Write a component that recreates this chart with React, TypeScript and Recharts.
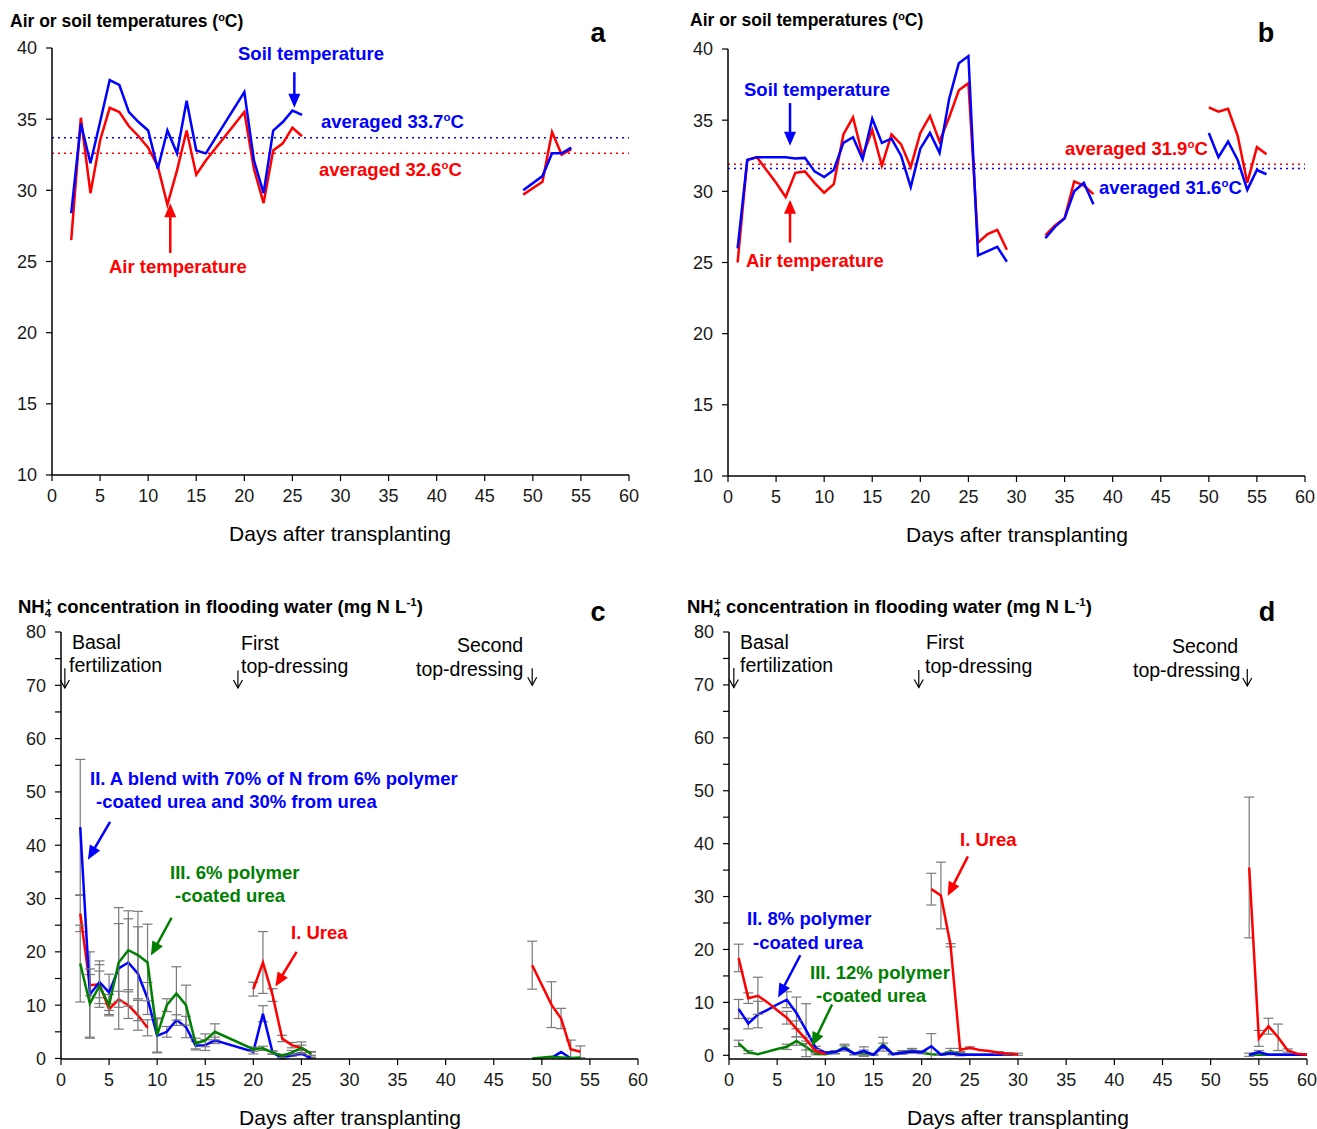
import React from 'react';
import { LineChart, Line, XAxis, YAxis, ReferenceLine, ErrorBar } from 'recharts';

const FONT = 'Arial, "Liberation Sans", Helvetica, sans-serif';
const RED = '#ff0000';
const BLUE = '#0000ff';
const GREEN = '#008000';
const ERR = '#7a7a7a';

// ---- panel a: temperatures, site 1 ----
const daysA = [2, 3, 4, 5, 6, 7, 8, 9, 10, 11, 12, 13, 14, 15, 16, 20, 21, 22, 23, 24, 25, 26, 30, 49, 51, 52, 53, 54];
const soilA = [28.4, 34.7, 31.9, 34.8, 37.75, 37.4, 35.5, 34.8, 34.2, 31.5, 34.2, 32.6, 36.3, 32.8, 32.6, 36.9, 32.1, 29.8, 34.2, 34.8, 35.6, 35.3, null, 30.0, 31.0, 32.6, 32.6, 33.0];
const airA = [26.5, 35.1, 29.8, 33.5, 35.8, 35.5, 34.5, 33.8, 33.0, 31.7, 29.0, 31.4, 34.2, 31.1, 32.1, 35.5, 31.5, 29.1, 32.8, 33.3, 34.4, 33.8, null, 29.7, 30.6, 34.1, 32.5, 32.9];
const avgSoilA = 33.7;
const avgAirA = 32.6;

// ---- panel b: temperatures, site 2 ----
const daysB = [1, 2, 3, 4, 5, 6, 7, 8, 9, 10, 11, 12, 13, 14, 15, 16, 17, 18, 19, 20, 21, 22, 23, 24, 25, 26, 27, 28, 29, 31, 33, 34, 35, 36, 37, 38, 45, 50, 51, 52, 53, 54, 55, 56];
const soilB = [26.0, 32.2, 32.4, 32.4, 32.4, 32.4, 32.3, 32.35, 31.4, 31.0, 31.5, 33.4, 33.8, 32.25, 35.1, 33.4, 33.7, 32.5, 30.3, 33.0, 34.1, 32.7, 36.5, 39.0, 39.5, 25.5, 25.8, 26.1, 25.05, null, 26.7, 27.5, 28.1, 30.0, 30.6, 29.1, null, 34.1, 32.4, 33.5, 32.2, 30.1, 31.5, 31.2];
const airB = [25.0, 32.2, 32.4, 31.5, 30.6, 29.6, 31.3, 31.4, 30.6, 29.9, 30.5, 34.0, 35.2, 32.5, 34.3, 31.8, 34.0, 33.3, 31.7, 34.1, 35.3, 33.5, 35.2, 37.1, 37.6, 26.4, 27.0, 27.3, 25.9, null, 26.9, 27.6, 28.1, 30.7, 30.4, 29.8, null, 35.9, 35.6, 35.8, 33.9, 30.6, 33.1, 32.6];
const avgSoilB = 31.6;
const avgAirB = 31.9;

// ---- panel c: NH4+ in flooding water, site 1 ----
const daysC = [2, 3, 4, 5, 6, 7, 8, 9, 10, 11, 12, 13, 14, 15, 16, 20, 21, 22, 23, 24, 25, 26, 30, 49, 51, 52, 53, 54];
const ureaC = [27.2, 13.75, 13.9, 9.25, 11.1, 10.0, 8.1, 5.75, null, null, null, null, null, null, null, 13.0, 18.0, 11.9, 3.75, 2.5, 2.0, 0.9, null, 17.5, 10.1, 7.5, 1.75, 1.25];
const ureaErrC = [3.4, 2, 2.5, 1, 1.5, 2.5, 2.8, 1.5, null, null, null, null, null, null, null, 1.3, 5.8, 1.2, 0.6, 0.5, 0.5, 0.4, null, 4.5, 4.3, 1.9, 1.7, 1.1];
const blendC = [43.4, 12.0, 14.3, 12.4, 16.9, 18.0, 15.9, 11.25, 4.25, 5.0, 7.2, 5.9, 2.4, 2.5, 3.4, 1.25, 8.4, 1.1, 0.1, 0.6, 0.9, 0.1, null, null, 0.1, 1.2, 0.05, null];
const blendErrC = [12.7, 8, 4, 3.4, 11.4, 8.2, 8.8, 3, 3.2, 1, 1, 2, 0.8, 1, 0.6, 0.4, 1.5, 0.3, 0.2, 0.2, 0.2, 0.1, null, null, null, null, null, null];
const pcuC = [17.8, 10.3, 13.6, 10.0, 18.0, 20.3, 19.4, 18.0, 4.4, 10.0, 12.2, 10.0, 2.8, 3.4, 5.0, 1.75, 1.9, 1.1, 0.5, 1.1, 2.0, 0.9, null, 0.0, 0.3, 0.2, 0.1, 0.2];
const pcuErrC = [7.2, 6.5, 4, 2, 7.3, 7.4, 8.2, 7.2, 3.2, 1.2, 5, 3.75, 1, 1.2, 1.5, 0.4, 0.4, 0.3, 0.3, 0.4, 1.1, 0.3, null, null, null, null, null, null];

// ---- panel d: NH4+ in flooding water, site 2 ----
const daysD = [1, 2, 3, 4, 5, 6, 7, 8, 9, 10, 11, 12, 13, 14, 15, 16, 17, 18, 19, 20, 21, 22, 23, 24, 25, 26, 27, 28, 29, 30, 40, 54, 55, 56, 57, 58, 59, 60];
const ureaD = [18.4, 10.8, 11.25, 10.0, 8.5, 7.1, 5.0, 3.0, 0.8, 0.3, null, null, null, null, null, null, null, null, null, null, 31.4, 30.2, 20.8, 1.0, 1.4, 1.0, 0.8, 0.5, 0.3, 0.2, null, 35.5, 3.2, 5.5, 3.4, 0.9, 0.3, 0.1];
const ureaErrD = [2.6, 1.0, 3.5, null, null, 1.2, 1.5, 0.3, 0.3, null, null, null, null, null, null, null, null, null, null, null, 3.0, 6.3, 0.3, 0.3, 0.2, null, null, 0.2, 0.2, 0.2, null, 13.3, 1.5, 1.5, 2.5, 0.3, null, null];
const blendD = [8.75, 6.0, 7.7, 8.6, 9.6, 10.5, 8.0, 4.75, 1.4, 0.5, 0.6, 1.3, 0.3, 0.8, 0.1, 1.8, 0.2, 0.5, 0.7, 0.6, 1.7, 0.1, 0.4, 0.1, 0.1, 0.1, 0.1, 0.1, 0.2, 0.1, null, 0.1, 0.6, 0.1, 0.1, 0.1, 0.1, 0.1];
const blendErrD = [1.8, 1.0, 2.5, null, null, 1.5, 3.0, 5.0, 0.3, 0.2, 0.3, 0.5, 0.2, 0.8, 0.1, 0.5, 0.1, 0.3, 0.3, 0.2, 2.4, 0.1, 0.3, 0.1, null, null, null, null, null, null, null, 0.3, 0.3, null, null, null, null, null];
const pcuD = [2.25, 0.6, 0.2, 0.7, 1.2, 1.6, 2.7, 1.6, 0.3, 0.2, 0.5, 1.6, 0.3, 0.4, 0.1, 2.1, 0.2, 0.6, 0.9, 0.5, 0.2, 0.1, 0.8, 0.2, 0.1, 0.1, 0.1, 0.1, 0.1, 0.1, null, 0.1, 0.1, 0.1, 0.1, 0.1, 0.1, 0.1];
const pcuErrD = [0.6, 0.3, null, null, null, 0.5, 0.8, 0.6, 0.2, null, 0.2, 0.5, 0.2, 0.6, null, 1.3, null, 0.3, 0.4, 0.2, null, null, 0.5, 0.3, null, null, null, null, null, null, null, null, null, null, null, null, null, null];

const dayTicks = [0, 5, 10, 15, 20, 25, 30, 35, 40, 45, 50, 55, 60];
const tempTicks = [10, 15, 20, 25, 30, 35, 40];
const nh4Ticks = [0, 5, 10, 15, 20, 25, 30, 35, 40, 45, 50, 55, 60, 65, 70, 75, 80];

// one row per day; missing values stay null so the lines break there
const buildRows = (days: number[], cols: Record<string, (number | null)[]>) =>
  days.map((d, i) => {
    const row: any = { day: d };
    Object.keys(cols).forEach((k) => {
      const v = cols[k][i];
      row[k] = v === undefined ? null : v;
    });
    return row;
  });

const rowsA = buildRows(daysA, { soil: soilA, air: airA });
const rowsB = buildRows(daysB, { soil: soilB, air: airB });
const rowsC = buildRows(daysC, { urea: ureaC, ureaErr: ureaErrC, blend: blendC, blendErr: blendErrC, pcu: pcuC, pcuErr: pcuErrC });
const rowsD = buildRows(daysD, { urea: ureaD, ureaErr: ureaErrD, blend: blendD, blendErr: blendErrD, pcu: pcuD, pcuErr: pcuErrD });

// arrow drawn along a ReferenceLine segment, head at the second point
const arrowShape = (color: string, opts: { len?: number; half?: number; w?: number; open?: boolean } = {}) => (p: any) => {
  const { x1, y1, x2, y2 } = p;
  if ([x1, y1, x2, y2].some((v) => v == null || isNaN(v))) return <g />;
  const len = opts.len ?? 14;
  const half = opts.half ?? 6;
  const w = opts.w ?? 2.5;
  const dx = x2 - x1;
  const dy = y2 - y1;
  const d = Math.sqrt(dx * dx + dy * dy) || 1;
  const ux = dx / d;
  const uy = dy / d;
  const bx = x2 - ux * len;
  const by = y2 - uy * len;
  const lx = bx - uy * half;
  const ly = by + ux * half;
  const rx = bx + uy * half;
  const ry = by - ux * half;
  if (opts.open) {
    return (
      <g>
        <line x1={x1} y1={y1} x2={x2} y2={y2} stroke={color} strokeWidth={w} />
        <polyline points={`${lx},${ly} ${x2},${y2} ${rx},${ry}`} fill="none" stroke={color} strokeWidth={w} />
      </g>
    );
  }
  return (
    <g>
      <line x1={x1} y1={y1} x2={bx + ux * 2} y2={by + uy * 2} stroke={color} strokeWidth={w} />
      <polygon points={`${lx},${ly} ${x2},${y2} ${rx},${ry}`} fill={color} />
    </g>
  );
};

const tickStyle = { fontSize: 18, fill: '#1a1a1a', fontFamily: FONT };
const axisLine = { stroke: '#000', strokeWidth: 1.5 };
const tickLine = { stroke: '#000', strokeWidth: 1.2 };

const Sup = ({ children, shift = 0 }: any) => (
  <span style={{ fontSize: '0.62em', position: 'relative', top: '-0.6em', marginLeft: shift }}>{children}</span>
);
const Sub = ({ children }: any) => (
  <span style={{ fontSize: '0.62em', position: 'relative', top: '0.35em' }}>{children}</span>
);

const Txt = ({ x, y, s = 18.5, b = true, c = '#000', center = false, children }: any) => (
  <div
    style={{
      position: 'absolute',
      left: x,
      top: y - s / 2,
      fontSize: s,
      lineHeight: `${s}px`,
      fontWeight: b ? 700 : 400,
      color: c,
      fontFamily: FONT,
      whiteSpace: 'nowrap',
      transform: center ? 'translateX(-50%)' : undefined,
    }}
  >
    {children}
  </div>
);

const seg = (x1: number, y1: number, x2: number, y2: number) => [{ x: x1, y: y1 }, { x: x2, y: y2 }] as any;

const dayAxis = () => (
  <XAxis key="x" dataKey="day" type="number" domain={[0, 60]} ticks={dayTicks} height={30} tickSize={6} tickMargin={8} tick={tickStyle} axisLine={axisLine} tickLine={tickLine} interval={0} />
);

const tempAxes = () => [
  dayAxis(),
  <YAxis key="y" type="number" domain={[10, 40]} ticks={tempTicks} width={52} tickSize={6} tickMargin={9} tick={tickStyle} axisLine={axisLine} tickLine={tickLine} interval={0} />,
];

const nh4Axes = (yw: number) => [
  dayAxis(),
  <YAxis key="y" type="number" domain={[0, 80]} ticks={nh4Ticks} width={yw} tickSize={6} tickMargin={9} tick={tickStyle} axisLine={axisLine} tickLine={tickLine} interval={0} tickFormatter={(v: number) => (v % 10 === 0 ? String(v) : '')} />,
];

const errBar = (key: string) => <ErrorBar dataKey={key} direction="y" width={5} stroke={ERR} strokeWidth={1.2} />;

function PanelA() {
  return (
    <LineChart width={658} height={580} data={rowsA} margin={{ top: 48, right: 29, bottom: 75, left: 0 }}>
      {tempAxes()}
      <ReferenceLine y={avgSoilA} stroke={BLUE} strokeDasharray="2 4" strokeWidth={1.5} />
      <ReferenceLine y={avgAirA} stroke={RED} strokeDasharray="2 4" strokeWidth={1.5} />
      <Line dataKey="air" stroke={RED} strokeWidth={2.5} dot={false} activeDot={false} isAnimationActive={false} type="linear" />
      <Line dataKey="soil" stroke={BLUE} strokeWidth={2.5} dot={false} activeDot={false} isAnimationActive={false} type="linear" />
      <ReferenceLine segment={seg(25.2, 38.3, 25.2, 35.8)} shape={arrowShape(BLUE)} />
      <ReferenceLine segment={seg(12.3, 25.6, 12.3, 29.1)} shape={arrowShape(RED)} />
    </LineChart>
  );
}

function PanelB() {
  return (
    <LineChart width={641} height={580} data={rowsB} margin={{ top: 49, right: 12, bottom: 74, left: 0 }}>
      {tempAxes()}
      <ReferenceLine y={avgAirB} stroke={RED} strokeDasharray="2 4" strokeWidth={1.5} />
      <ReferenceLine y={avgSoilB} stroke={BLUE} strokeDasharray="2 4" strokeWidth={1.5} />
      <Line dataKey="air" stroke={RED} strokeWidth={2.5} dot={false} activeDot={false} isAnimationActive={false} type="linear" />
      <Line dataKey="soil" stroke={BLUE} strokeWidth={2.5} dot={false} activeDot={false} isAnimationActive={false} type="linear" />
      <ReferenceLine segment={seg(6.45, 36.2, 6.45, 33.2)} shape={arrowShape(BLUE)} />
      <ReferenceLine segment={seg(6.45, 26.4, 6.45, 29.4)} shape={arrowShape(RED)} />
    </LineChart>
  );
}

const blackArrow = arrowShape('#000', { len: 8, half: 4.5, w: 1.2, open: true });

function PanelC() {
  return (
    <LineChart width={658} height={549} data={rowsC} margin={{ top: 52, right: 20, bottom: 40, left: 0 }}>
      {nh4Axes(61)}
      <Line dataKey="urea" stroke={RED} strokeWidth={2.5} dot={false} activeDot={false} isAnimationActive={false} type="linear">
        {errBar('ureaErr')}
      </Line>
      <Line dataKey="blend" stroke={BLUE} strokeWidth={2.5} dot={false} activeDot={false} isAnimationActive={false} type="linear">
        {errBar('blendErr')}
      </Line>
      <Line dataKey="pcu" stroke={GREEN} strokeWidth={2.5} dot={false} activeDot={false} isAnimationActive={false} type="linear">
        {errBar('pcuErr')}
      </Line>
      <ReferenceLine segment={seg(0.4, 73.2, 0.4, 69.5)} shape={blackArrow} />
      <ReferenceLine segment={seg(18.4, 72.8, 18.4, 69.5)} shape={blackArrow} />
      <ReferenceLine segment={seg(49, 73.2, 49, 70.0)} shape={blackArrow} />
      <ReferenceLine segment={seg(5.1, 44.4, 2.8, 37.3)} shape={arrowShape(BLUE)} />
      <ReferenceLine segment={seg(11.5, 26.4, 9.35, 19.3)} shape={arrowShape(GREEN)} />
      <ReferenceLine segment={seg(24.5, 20.0, 22.3, 13.5)} shape={arrowShape(RED)} />
    </LineChart>
  );
}

function PanelD() {
  return (
    <LineChart width={641} height={549} data={rowsD} margin={{ top: 52, right: 10, bottom: 40, left: 0 }}>
      {nh4Axes(53)}
      <Line dataKey="pcu" stroke={GREEN} strokeWidth={2.5} dot={false} activeDot={false} isAnimationActive={false} type="linear">
        {errBar('pcuErr')}
      </Line>
      <Line dataKey="blend" stroke={BLUE} strokeWidth={2.5} dot={false} activeDot={false} isAnimationActive={false} type="linear">
        {errBar('blendErr')}
      </Line>
      <Line dataKey="urea" stroke={RED} strokeWidth={2.5} dot={false} activeDot={false} isAnimationActive={false} type="linear">
        {errBar('ureaErr')}
      </Line>
      <ReferenceLine segment={seg(0.5, 73.2, 0.5, 69.5)} shape={blackArrow} />
      <ReferenceLine segment={seg(19.7, 72.8, 19.7, 69.5)} shape={blackArrow} />
      <ReferenceLine segment={seg(53.8, 73.0, 53.8, 69.8)} shape={blackArrow} />
      <ReferenceLine segment={seg(24.8, 37.6, 22.7, 30.1)} shape={arrowShape(RED)} />
      <ReferenceLine segment={seg(7.4, 18.9, 5.1, 10.9)} shape={arrowShape(BLUE)} />
      <ReferenceLine segment={seg(10.7, 9.6, 8.6, 1.7)} shape={arrowShape(GREEN)} />
    </LineChart>
  );
}

export default function App() {
  const box = (left: number, top: number) => ({ position: 'absolute' as const, left, top });
  return (
    <div style={{ position: 'absolute', left: 0, top: 0, width: 1317, height: 1129, background: '#fff', overflow: 'hidden', fontFamily: FONT }}>
      <div style={box(0, 0)}><PanelA /></div>
      <div style={box(676, 0)}><PanelB /></div>
      <div style={box(0, 580)}><PanelC /></div>
      <div style={box(676, 580)}><PanelD /></div>

      {/* panel a texts */}
      <Txt x={10} y={22} s={17.5}>Air or soil temperatures (<Sup>o</Sup>C)</Txt>
      <Txt x={598} y={33} s={27} center>a</Txt>
      <Txt x={238} y={54} c={BLUE}>Soil temperature</Txt>
      <Txt x={321} y={122} c={BLUE}>averaged 33.7<Sup>o</Sup>C</Txt>
      <Txt x={319} y={170} c={RED}>averaged 32.6<Sup>o</Sup>C</Txt>
      <Txt x={109} y={267} c={RED}>Air temperature</Txt>
      <Txt x={340} y={533} s={21} b={false} center>Days after transplanting</Txt>

      {/* panel b texts */}
      <Txt x={690} y={21} s={17.5}>Air or soil temperatures (<Sup>o</Sup>C)</Txt>
      <Txt x={1266} y={33} s={27} center>b</Txt>
      <Txt x={744} y={90} c={BLUE}>Soil temperature</Txt>
      <Txt x={746} y={261} c={RED}>Air temperature</Txt>
      <Txt x={1065} y={149} c={RED}>averaged 31.9<Sup>o</Sup>C</Txt>
      <Txt x={1099} y={188} c={BLUE}>averaged 31.6<Sup>o</Sup>C</Txt>
      <Txt x={1017} y={534} s={21} b={false} center>Days after transplanting</Txt>

      {/* panel c texts */}
      <Txt x={18} y={607} s={18.5}>NH<Sub>4</Sub><Sup shift={-6}>+</Sup> concentration in flooding water (mg N L<Sup>-1</Sup>)</Txt>
      <Txt x={598} y={612} s={27} center>c</Txt>
      <Txt x={72} y={643} s={19.5} b={false}>Basal</Txt>
      <Txt x={69} y={666} s={19.5} b={false}>fertilization</Txt>
      <Txt x={241} y={644} s={19.5} b={false}>First</Txt>
      <Txt x={241} y={667} s={19.5} b={false}>top-dressing</Txt>
      <Txt x={490} y={646} s={19.5} b={false} center>Second</Txt>
      <Txt x={416} y={670} s={19.5} b={false}>top-dressing</Txt>
      <Txt x={90} y={779} c={BLUE}>II. A blend with 70% of N from 6% polymer</Txt>
      <Txt x={96} y={802} c={BLUE}>-coated urea and 30% from urea</Txt>
      <Txt x={170} y={873} c={GREEN}>III. 6% polymer</Txt>
      <Txt x={175} y={896} c={GREEN}>-coated urea</Txt>
      <Txt x={291} y={933} c={RED}>I. Urea</Txt>
      <Txt x={350} y={1117} s={21} b={false} center>Days after transplanting</Txt>

      {/* panel d texts */}
      <Txt x={687} y={607} s={18.5}>NH<Sub>4</Sub><Sup shift={-6}>+</Sup> concentration in flooding water (mg N L<Sup>-1</Sup>)</Txt>
      <Txt x={1267} y={612} s={27} center>d</Txt>
      <Txt x={740} y={643} s={19.5} b={false}>Basal</Txt>
      <Txt x={740} y={666} s={19.5} b={false}>fertilization</Txt>
      <Txt x={926} y={643} s={19.5} b={false}>First</Txt>
      <Txt x={925} y={667} s={19.5} b={false}>top-dressing</Txt>
      <Txt x={1205} y={647} s={19.5} b={false} center>Second</Txt>
      <Txt x={1133} y={671} s={19.5} b={false}>top-dressing</Txt>
      <Txt x={960} y={840} c={RED}>I. Urea</Txt>
      <Txt x={747} y={919} c={BLUE}>II. 8% polymer</Txt>
      <Txt x={753} y={943} c={BLUE}>-coated urea</Txt>
      <Txt x={810} y={973} c={GREEN}>III. 12% polymer</Txt>
      <Txt x={816} y={996} c={GREEN}>-coated urea</Txt>
      <Txt x={1018} y={1117} s={21} b={false} center>Days after transplanting</Txt>
    </div>
  );
}
